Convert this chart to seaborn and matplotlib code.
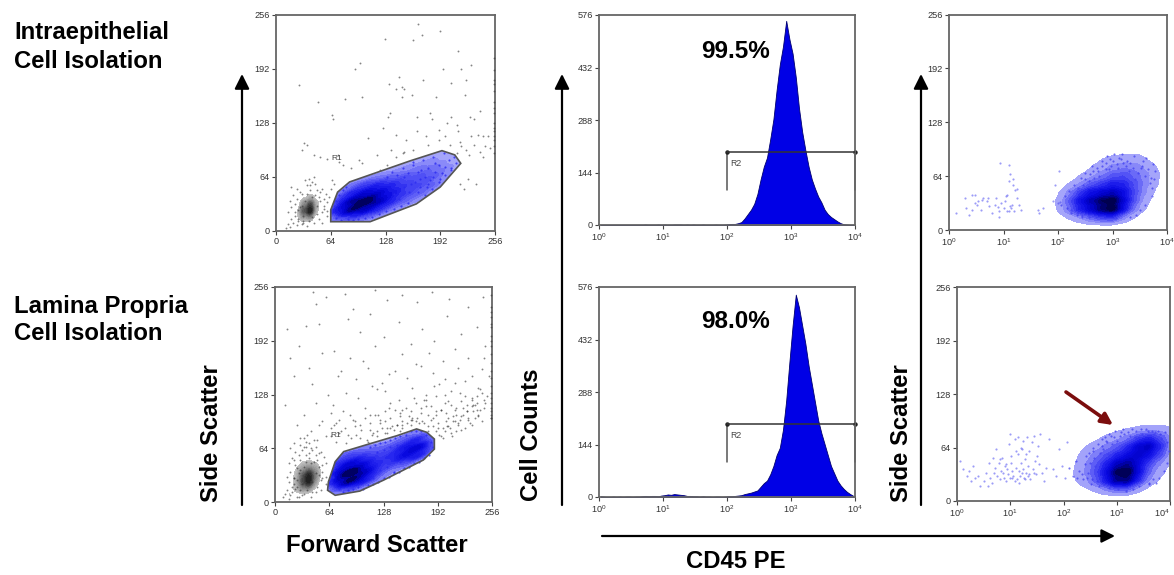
import numpy as np
import pandas as pd
import seaborn as sns
import matplotlib
matplotlib.use("Agg")
import matplotlib.pyplot as plt
from matplotlib.colors import LinearSegmentedColormap
from matplotlib.patches import Polygon, FancyArrowPatch

sns.set_theme(style="white")
plt.rcParams['font.family'] = ['Liberation Sans', 'DejaVu Sans']

W, H = 1174, 575

# tick labels
linear_ticks = [0, 64, 128, 192, 256]
count_ticks = [0, 144, 288, 432, 576]
decade_ticks = [0, 1, 2, 3, 4]

# gates
gate_top_x = [64, 110, 164, 192, 216, 209, 194, 157, 86, 72, 64]
gate_top_y = [11, 11, 32, 52, 80, 90, 95, 83, 58, 46, 25]
gate_bot_x = [62, 71, 100, 128, 175, 188, 188, 179, 167, 144, 104, 81, 71, 63]
gate_bot_y = [14, 8, 13, 26, 50, 63, 75, 83, 87, 79, 67, 60, 48, 24]

# density grids read by eye (rows from high to low side scatter)
blue_top_cols = [72, 88, 104, 120, 136, 152, 168, 184, 200, 216]
blue_top_rows = [95, 85, 75, 65, 55, 45, 35, 25, 15]
blue_top = [[0, 0, 0, 0, 0, 0, 0, 2, 3, 0],
            [0, 0, 0, 0, 0, 2, 6, 8, 6, 2],
            [0, 0, 0, 0, 4, 8, 12, 14, 10, 4],
            [0, 0, 5, 10, 14, 18, 20, 18, 8, 0],
            [4, 12, 24, 32, 30, 24, 22, 16, 4, 0],
            [10, 32, 55, 55, 38, 24, 16, 8, 0, 0],
            [25, 70, 100, 65, 30, 14, 6, 0, 0, 0],
            [40, 80, 60, 28, 10, 3, 0, 0, 0, 0],
            [14, 22, 14, 5, 0, 0, 0, 0, 0, 0]]

blue_bot_cols = [72, 88, 104, 120, 136, 152, 168, 184]
blue_bot_rows = [85, 75, 65, 55, 45, 35, 25, 15]
blue_bot = [[0, 0, 0, 0, 0, 4, 12, 4],
            [0, 0, 0, 2, 6, 20, 44, 16],
            [5, 10, 12, 16, 24, 46, 75, 24],
            [18, 30, 32, 28, 34, 55, 50, 6],
            [35, 70, 55, 34, 28, 20, 6, 0],
            [55, 130, 75, 30, 10, 3, 0, 0],
            [55, 110, 50, 14, 2, 0, 0, 0],
            [20, 25, 8, 1, 0, 0, 0, 0]]

debris_cols = [16, 24, 32, 40, 48, 56]
debris_rows = [56, 48, 40, 32, 24, 16, 8]
debris_top = [[0, 0, 1, 1, 0, 0],
              [0, 1, 2, 4, 2, 1],
              [1, 2, 6, 10, 5, 1],
              [1, 3, 16, 30, 9, 2],
              [1, 5, 28, 45, 8, 1],
              [2, 6, 14, 16, 3, 0],
              [2, 3, 2, 1, 0, 0]]
debris_bot = [[1, 2, 3, 3, 2, 1],
              [2, 3, 5, 6, 5, 2],
              [3, 5, 10, 14, 10, 3],
              [3, 6, 18, 30, 14, 3],
              [3, 6, 20, 32, 10, 2],
              [3, 6, 12, 12, 4, 1],
              [8, 4, 3, 2, 1, 0]]

cd45_cols = [2.0, 2.2, 2.4, 2.6, 2.8, 3.0, 3.2, 3.4, 3.6, 3.8]
cd45_rows = [85, 75, 65, 55, 45, 35, 25, 15]
cd45_top = [[0, 0, 0, 0, 3, 5, 7, 7, 3, 0],
            [0, 0, 0, 3, 7, 12, 14, 14, 9, 3],
            [0, 0, 3, 7, 14, 24, 28, 20, 13, 5],
            [0, 3, 10, 22, 32, 46, 42, 26, 13, 4],
            [2, 12, 32, 55, 65, 78, 58, 28, 10, 2],
            [4, 22, 55, 85, 110, 125, 65, 24, 6, 0],
            [3, 16, 45, 72, 105, 130, 55, 14, 3, 0],
            [0, 3, 8, 18, 28, 34, 12, 3, 0, 0]]
cd45_bot_cols = [2.2, 2.4, 2.6, 2.8, 3.0, 3.2, 3.4, 3.6, 3.8, 3.95]
cd45_bot = [[0, 0, 0, 2, 4, 6, 10, 12, 10, 6],
            [0, 0, 3, 8, 14, 24, 50, 70, 40, 16],
            [0, 5, 12, 22, 36, 62, 110, 130, 64, 18],
            [3, 10, 24, 42, 64, 90, 115, 90, 44, 12],
            [4, 16, 36, 68, 120, 145, 95, 48, 18, 5],
            [5, 18, 42, 90, 180, 200, 95, 32, 9, 2],
            [4, 12, 34, 76, 155, 165, 68, 18, 4, 0],
            [0, 3, 7, 18, 32, 36, 12, 3, 0, 0]]

# single events that can be told apart
gray_top_x = [166, 171, 192, 127, 160, 213, 27, 92, 98, 195, 216, 228, 49, 81, 101, 132, 144, 140, 147, 150, 147, 159,
              172, 187, 204, 222, 221, 66, 67, 238, 180, 131, 133, 165, 182, 205, 227, 232, 108, 125, 140, 152, 165, 175,
              190, 200, 212, 213, 228, 236, 242, 248, 231, 244, 250, 238, 242, 226, 222, 215, 216, 212, 203, 150, 135,
              118, 97, 74, 72, 60, 45, 33, 30, 36, 52, 78, 88, 100, 122, 130, 140, 148, 160, 178, 190, 198, 255, 255, 255,
              255, 255, 255, 255, 255, 255, 255, 255, 255, 255, 255, 255, 224, 234, 220, 215]
gray_top_y = [245, 232, 236, 227, 226, 213, 173, 192, 199, 192, 191, 196, 153, 156, 159, 174, 182, 168, 170, 168, 158, 161,
              179, 159, 175, 179, 161, 137, 132, 142, 140, 135, 139, 135, 133, 135, 135, 133, 110, 122, 114, 108, 118, 112,
              120, 128, 125, 118, 112, 114, 112, 112, 102, 100, 98, 94, 88, 90, 96, 105, 100, 92, 102, 94, 96, 90, 84,
              82, 90, 85, 90, 104, 96, 102, 88, 78, 74, 80, 72, 78, 88, 92, 96, 102, 108, 112, 205, 190, 178, 166, 152,
              140, 128, 118, 108, 100, 92, 174, 146, 122, 112, 62, 55, 50, 56]
debris_pts_top_x = [12, 14, 16, 18, 20, 22, 24, 26, 14, 18, 22, 26, 30, 16, 20, 24, 28, 32, 36, 18, 24, 30, 36, 42, 48, 54, 58, 62,
                    28, 34, 40, 46, 52, 56, 60, 26, 32, 38, 44, 50, 54, 22, 30, 36, 42, 48, 56, 60, 34, 40, 46, 52, 38, 44, 50,
                    56, 32, 42, 48, 54, 60, 64, 68, 66]
debris_pts_top_y = [3, 8, 5, 14, 10, 18, 7, 12, 22, 28, 32, 25, 8, 36, 42, 38, 46, 12, 6, 52, 50, 44, 54, 58, 48, 50, 44, 40, 28,
                    36, 48, 42, 36, 30, 34, 14, 18, 12, 10, 14, 22, 22, 30, 44, 40, 30, 26, 18, 60, 54, 56, 46, 62, 64, 40, 38, 10,
                    16, 20, 10, 24, 50, 56, 60]
gray_bot_x = [45, 48, 60, 82, 92, 118, 132, 150, 168, 185, 205, 228, 245, 255, 14, 28, 36, 52, 70, 86, 100, 112, 128, 146,
              160, 174, 188, 203, 220, 238, 248, 18, 40, 56, 74, 88, 104, 118, 134, 150, 166, 182, 198, 212, 228, 244,
              22, 44, 62, 78, 96, 110, 126, 142, 156, 172, 186, 200, 216, 232, 246, 12, 26, 48, 66, 84, 98, 114, 130,
              146, 162, 178, 194, 208, 224, 240, 252, 34, 52, 68, 80, 92, 106, 122, 136, 150, 164, 178, 190, 204, 218,
              232, 242, 30, 42, 56, 66, 76, 94, 112, 130, 144, 158, 172, 184, 196, 210, 222, 234, 246, 22, 36, 50, 60,
              72, 86, 100, 116, 132, 148, 160, 176, 190, 202, 214, 226, 238, 180, 192, 204, 216, 228, 240, 196, 208, 220,
              232, 244, 186, 200, 212, 224, 236, 176, 188, 200, 212, 120, 134, 148, 162, 112, 124, 136, 150, 166, 255, 255,
              255, 255, 255, 255, 255, 255, 255, 255, 255, 255, 255, 255, 255, 255, 255, 255, 255, 255, 255, 255]
gray_bot_y = [250, 236, 244, 248, 230, 252, 240, 246, 238, 250, 242, 232, 244, 226, 206, 186, 210, 212, 180, 218, 202, 224,
              196, 214, 188, 206, 192, 222, 200, 208, 186, 172, 160, 178, 150, 172, 168, 186, 152, 176, 164, 178, 168, 182,
              172, 158, 150, 140, 128, 156, 146, 160, 142, 156, 148, 162, 154, 146, 160, 150, 172, 116, 92, 118, 106,
              130, 124, 138, 132, 122, 136, 128, 140, 132, 144, 136, 150, 104, 92, 116, 108, 98, 112, 104, 118, 110, 124,
              114, 126, 120, 130, 122, 134, 76, 84, 96, 88, 82, 90, 86, 96, 92, 102, 106, 98, 110, 102, 112, 116, 122,
              70, 66, 74, 78, 94, 80, 76, 82, 88, 84, 98, 94, 108, 96, 104, 108, 110, 84, 88, 90, 94, 100, 104, 78, 82,
              86, 92, 96, 100, 118, 110, 126, 116, 122, 138, 128, 142, 134, 112, 106, 100, 104, 94, 88, 92, 96, 100, 246,
              232, 220, 208, 198, 186, 176, 166, 156, 148, 138, 130, 124, 118, 112, 108, 104, 100, 212, 192]
band_bot_x = [66, 72, 78, 84, 90, 96, 102, 108, 114, 120, 126, 132, 138, 144, 150, 156, 162, 168, 174, 180, 186, 192, 198, 204, 210,
              216, 222, 228, 234, 240, 246, 70, 76, 82, 88, 94, 100, 106, 112, 118, 124, 130, 136, 142, 148, 154, 160, 166, 172,
              178, 184, 190, 196, 202, 208, 214, 220, 226, 232, 238, 244, 250, 110, 120, 130, 140, 150, 160, 170, 180, 190, 200,
              206, 212, 218, 224, 230, 236, 242, 248, 194, 198, 203, 209, 214, 220, 226, 232, 238]
band_bot_y = [78, 72, 84, 70, 76, 80, 86, 74, 80, 84, 88, 82, 90, 92, 96, 94, 98, 100, 96, 104, 90, 94, 88, 100, 96, 92, 104, 98,
              108, 102, 112, 92, 98, 88, 104, 96, 92, 100, 94, 104, 98, 108, 100, 110, 102, 112, 108, 118, 112, 122, 114, 104, 110,
              106, 116, 112, 120, 116, 124, 118, 130, 126, 72, 78, 82, 86, 88, 92, 94, 90, 84, 84, 88, 96, 98, 88, 94, 100, 110,
              118, 80, 76, 90, 78, 84, 102, 108, 114, 126]
debris_pts_bot_x = [10, 12, 14, 16, 18, 20, 22, 24, 26, 14, 18, 22, 26, 30, 34, 16, 20, 24, 28, 32, 36, 40, 18, 24, 30, 36, 42, 48, 54,
                    58, 28, 34, 40, 46, 52, 56, 60, 26, 32, 38, 44, 50, 54, 22, 30, 36, 42, 48, 56, 60, 34, 40, 46, 52, 38, 44, 50,
                    56, 32, 42, 48, 54, 60, 20, 28, 36, 30, 44, 52, 26, 34, 48, 16, 22]
debris_pts_bot_y = [6, 10, 14, 4, 8, 12, 22, 16, 6, 30, 36, 28, 40, 14, 10, 46, 52, 44, 56, 62, 48, 58, 64, 60, 68, 72, 64, 66, 60, 54,
                    34, 42, 52, 48, 42, 36, 46, 18, 22, 14, 12, 18, 26, 28, 38, 56, 46, 34, 28, 22, 76, 70, 74, 58, 80, 62, 50, 44,
                    8, 6, 12, 14, 30, 18, 6, 32, 50, 24, 32, 26, 66, 56, 24, 50]

blue_gate_top_x = [68, 70, 74, 78, 82, 70, 76, 84, 90, 96, 104, 112, 120, 128, 138, 146, 154, 130, 136, 142, 148, 154, 160, 166,
                   172, 178, 184, 190, 196, 202, 208, 210, 204, 198, 192, 186, 180, 174, 168, 162, 156, 150, 144, 138, 150, 158,
                   166, 174, 182, 190, 198, 205, 170, 178, 186, 194, 160, 168, 176, 184]
blue_gate_top_y = [30, 36, 42, 48, 52, 15, 13, 14, 13, 14, 15, 17, 20, 24, 26, 30, 33, 64, 70, 66, 74, 68, 78, 70, 84, 74, 88,
                   78, 92, 84, 88, 80, 72, 76, 62, 70, 60, 64, 52, 58, 46, 52, 38, 44, 64, 56, 46, 42, 50, 58, 66, 74, 72, 56, 80, 68,
                   82, 62, 52, 64]
blue_gate_bot_x = [66, 68, 70, 72, 76, 80, 86, 92, 98, 104, 110, 116, 122, 128, 134, 140, 146, 152, 158, 164, 170, 176, 182, 186, 184,
                   178, 172, 166, 160, 154, 148, 142, 136, 130, 124, 118, 112, 120, 128, 136, 144, 152, 116, 124, 132, 140, 148]
blue_gate_bot_y = [24, 30, 38, 46, 16, 12, 14, 16, 18, 16, 20, 22, 24, 28, 30, 34, 36, 40, 42, 46, 48, 52, 56, 66, 72, 80, 84, 85,
                   84, 80, 78, 76, 74, 72, 70, 68, 66, 60, 62, 66, 68, 70, 28, 38, 42, 36, 48]

blue_left_top_x = [0.12, 0.30, 0.32, 0.36, 0.42, 0.48, 0.48, 0.52, 0.58, 0.60, 0.62, 0.70, 0.72, 0.74, 0.78, 0.84, 0.86, 0.90, 0.92,
                   0.94, 0.96, 1.00, 1.02, 1.04, 1.06, 1.06, 1.10, 1.10, 1.12, 1.14, 1.16, 1.18, 1.20, 1.22, 1.24, 1.28, 1.32,
                   1.64, 1.66, 1.72, 2.00, 2.02, 1.90, 1.94, 0.92, 1.10, 1.18, 1.12, 1.24, 2.04, 0.42, 0.54]
blue_left_top_y = [20, 38, 26, 18, 42, 42, 32, 30, 24, 36, 38, 34, 38, 28, 20, 30, 38, 27, 22, 79, 32, 26, 34, 40, 42, 22,
                   23, 77, 28, 26, 30, 60, 22, 48, 38, 30, 24, 24, 20, 26, 32, 70, 35, 54, 16, 58, 54, 66, 49, 33, 24, 34]
blue_fringe_top_x = [2.06, 2.12, 2.20, 2.24, 2.30, 2.36, 2.42, 2.44, 2.50, 2.56, 2.62, 2.70, 2.74, 2.80, 2.86, 2.90, 2.96, 3.02,
                     3.06, 3.12, 3.18, 3.26, 3.32, 3.40, 3.44, 3.52, 3.56, 3.62, 3.66, 3.70, 3.72, 3.74, 3.78, 3.72, 3.60, 3.50,
                     3.42, 3.30, 3.20, 3.10, 2.98, 2.88, 2.76, 2.66, 2.56, 2.46, 2.36, 2.26, 2.16, 2.24, 2.34, 2.44,
                     2.50, 2.58, 2.64, 2.72, 2.80, 2.88, 2.94, 3.00, 3.08, 3.16, 3.24, 3.32, 3.38, 3.46, 3.54, 3.60, 3.68, 3.76]
blue_fringe_top_y = [30, 40, 46, 24, 54, 20, 62, 18, 68, 15, 76, 16, 70, 82, 14, 88, 84, 90, 14, 86, 90, 82, 15, 88, 18, 74,
                     82, 86, 72, 62, 50, 78, 70, 40, 30, 24, 60, 70, 80, 74, 76, 72, 64, 62, 58, 54, 50, 36, 26, 20, 18, 16,
                     60, 66, 70, 74, 76, 80, 72, 82, 78, 84, 76, 80, 74, 68, 76, 64, 56, 60]

blue_left_bot_x = [0.05, 0.12, 0.18, 0.22, 0.26, 0.30, 0.34, 0.40, 0.44, 0.50, 0.54, 0.58, 0.60, 0.62, 0.66, 0.70, 0.72, 0.74, 0.76,
                   0.78, 0.80, 0.82, 0.84, 0.86, 0.88, 0.90, 0.92, 0.94, 0.96, 0.98, 1.00, 1.00, 1.02, 1.04, 1.06, 1.08, 1.10,
                   1.12, 1.14, 1.16, 1.18, 1.20, 1.22, 1.24, 1.26, 1.28, 1.30, 1.32, 1.34, 1.36, 1.38, 1.40, 1.42, 1.44, 1.46,
                   1.48, 1.50, 1.52, 1.54, 1.56, 1.60, 1.64, 1.68, 1.72, 1.30, 1.20, 1.10, 1.14, 1.24, 1.34, 1.02, 0.92, 0.80,
                   0.68, 1.80, 1.86, 1.92, 1.98, 2.02, 2.06, 1.04, 1.08, 1.16, 1.22, 1.28, 1.36, 1.44]
blue_left_bot_y = [48, 38, 30, 36, 24, 42, 28, 30, 18, 24, 34, 18, 46, 28, 22, 34, 40, 62, 30, 46, 26, 36, 52, 34, 28, 42, 24,
                   38, 32, 68, 80, 28, 46, 36, 30, 74, 40, 26, 56, 36, 30, 46, 62, 72, 28, 50, 34, 76, 42, 60, 26, 70, 38,
                   78, 48, 32, 54, 66, 44, 80, 34, 24, 40, 74, 56, 64, 60, 76, 38, 30, 54, 44, 50, 52, 38, 30, 62, 42, 28,
                   70, 28, 24, 22, 34, 26, 32, 34]
blue_fringe_bot_x = [2.10, 2.18, 2.24, 2.30, 2.36, 2.42, 2.46, 2.52, 2.56, 2.60, 2.66, 2.72, 2.76, 2.80, 2.86, 2.90, 2.96, 3.02,
                     3.08, 3.12, 3.18, 3.24, 3.30, 3.36, 3.42, 3.48, 3.54, 3.60, 3.66, 3.72, 3.78, 3.84, 3.90, 3.95, 3.98, 3.94,
                     3.88, 3.80, 3.74, 3.68, 3.60, 2.50, 2.58, 2.68, 2.74, 2.82, 2.70, 2.84, 2.92, 2.62, 2.54, 2.44, 2.34, 2.26,
                     2.40, 2.48, 2.56, 2.64, 2.72, 2.78, 2.86, 2.94, 3.00, 3.06, 3.14, 3.22, 3.28, 3.34, 3.46, 3.58, 3.70, 3.82]
blue_fringe_bot_y = [40, 30, 48, 36, 26, 54, 34, 20, 60, 42, 18, 66, 20, 72, 16, 78, 84, 14, 82, 86, 12, 78, 14, 84, 18, 80,
                     86, 22, 84, 82, 84, 74, 82, 70, 60, 46, 36, 28, 22, 26, 20, 46, 52, 58, 62, 70, 30, 56, 68, 24, 26, 28,
                     32, 28, 44, 58, 64, 68, 74, 76, 80, 76, 72, 78, 80, 82, 86, 76, 86, 84, 80, 80]

# cell counts per bin, 0.05 decade wide, starting at 10^0
hist_top = [0, 0, 0, 0, 0, 0, 0, 0, 0, 0, 0, 0, 0, 0, 1, 0, 0, 0, 1, 0, 1, 0, 0, 1, 1, 1, 0, 1, 0, 1, 0, 0, 1, 0, 0, 0, 1, 0, 0, 1,
            2, 3, 3, 5, 8, 18, 30, 42, 58, 85, 125, 160, 185, 235, 290, 370, 440, 490, 560, 510, 470, 405, 320, 255, 205, 160,
            125, 100, 78, 62, 42, 30, 22, 16, 10, 5, 2, 1, 0, 0]
hist_bot = [2, 1, 0, 0, 1, 0, 1, 0, 1, 1, 0, 1, 1, 2, 3, 2, 3, 3, 2, 4, 5, 7, 6, 8, 7, 6, 5, 3, 3, 2, 2, 1, 2, 1, 1, 0, 1, 1, 0, 1,
            2, 2, 3, 4, 5, 8, 10, 12, 15, 18, 28, 38, 45, 62, 85, 115, 135, 185, 265, 370, 470, 555, 520, 470, 420, 360, 310,
            260, 210, 175, 145, 115, 85, 65, 45, 32, 22, 14, 8, 3]
hist_edges = [i * 0.05 for i in range(81)]
hist_lefts = hist_edges[:-1]

marker_low, marker_high, marker_y, marker_drop = 2.0, 4.0, 200, 96

blue_map = LinearSegmentedColormap.from_list("cyto", ["#b4b4fb", "#5a5af6", "#2222ee", "#0808e0", "#0000c0", "#00007a", "#000040"])
black_map = LinearSegmentedColormap.from_list("debris", ["#c4c4c4", "#8a8a8a", "#4a4a4a", "#1c1c1c"])


def add_axes(left, top, right, bottom):
    ax = fig.add_axes([left / W, 1 - bottom / H, (right - left) / W, (bottom - top) / H])
    for s in ["top", "right", "left", "bottom"]:
        ax.spines[s].set_color("#666666")
        ax.spines[s].set_linewidth(1.3)
    ax.tick_params(left=True, bottom=True, length=3, width=0.8, color="#444444", labelcolor="#333333",
                   labelsize=6.6, pad=1.5)
    return ax


def density(ax, cols, rows, grid, cmap, bw, clip=None, thresh=0.05):
    xx, yy = np.meshgrid(cols, rows)
    df = pd.DataFrame({"x": xx.ravel(), "y": yy.ravel(), "w": np.array(grid).ravel()})
    df = df[df.w > 0]
    before = len(ax.collections)
    sns.kdeplot(data=df, x="x", y="y", weights="w", fill=True, cmap=cmap, levels=16, thresh=thresh,
                bw_adjust=bw, gridsize=150, ax=ax)
    if clip is not None:
        for c in ax.collections[before:]:
            c.set_clip_path(clip)


def dots(ax, xs, ys, color, alpha=0.75, size=2.2, zorder=3):
    # hand read lists, keep the complete pairs
    n = min(len(xs), len(ys))
    sns.scatterplot(x=xs[:n], y=ys[:n], color=color, s=size, alpha=alpha, linewidth=0, ax=ax, zorder=zorder)


def finish_linear(ax):
    ax.set(xlim=(0, 256), ylim=(0, 256), xlabel="", ylabel="")
    ax.set_xticks(linear_ticks)
    ax.set_yticks(linear_ticks)


def finish_log(ax, yticks):
    ax.set(xlim=(0, 4), ylim=(0, yticks[-1]), xlabel="", ylabel="")
    ax.set_xticks(decade_ticks)
    ax.set_xticklabels([f"$\\mathregular{{10^{d}}}$" for d in decade_ticks])
    ax.set_yticks(yticks)


def forward_panel(box, gate_x, gate_y, cols, rows, grid, debris, pts, blue_pts, label_xy):
    ax = add_axes(*box)
    gate = Polygon(np.column_stack([gate_x, gate_y]), closed=True, fill=False, edgecolor="#555555", lw=1.2, zorder=5)
    ax.add_patch(gate)
    density(ax, debris_cols, debris_rows, debris, black_map, 0.62, thresh=0.3)
    for xs, ys in pts:
        dots(ax, xs, ys, "#333333", 0.6, 1.8)
    density(ax, cols, rows, grid, blue_map, 0.5, clip=gate, thresh=0.015)
    dots(ax, blue_pts[0], blue_pts[1], "#2a2af0", 0.8, 2.4, zorder=4)
    finish_linear(ax)
    ax.text(label_xy[0], label_xy[1], "R1", fontsize=6, color="#444444", ha="center", va="center")
    return ax


def hist_panel(box, counts, pct, pct_xy):
    ax = add_axes(*box)
    sns.histplot(x=hist_lefts, weights=counts, bins=hist_edges, element="poly", fill=True, color="#0000e6",
                 edgecolor="#000070", linewidth=0.6, alpha=1, ax=ax)
    finish_log(ax, count_ticks)
    ax.plot([marker_low, marker_high], [marker_y, marker_y], color="#333333", lw=1.1, zorder=6)
    ax.plot([marker_low, marker_low], [marker_y, marker_drop], color="#555555", lw=1.1)
    ax.plot([marker_high, marker_high], [marker_y, marker_drop], color="#555555", lw=1.1, clip_on=False)
    ax.plot([marker_low, marker_high], [marker_y, marker_y], "o", color="#222222", ms=2.2, clip_on=False)
    ax.text(marker_low + 0.05, marker_y - 30, "R2", fontsize=6.3, color="#444444", va="center")
    fig.text(pct_xy[0] / W, 1 - pct_xy[1] / H, pct, fontsize=17.5, fontweight="bold", color="black",
             ha="center", va="center")


def cd45_panel(box, cols, grid, left_x, left_y, fringe_x, fringe_y):
    ax = add_axes(*box)
    dots(ax, left_x, left_y, "#3a3af0", 0.5, 2.4)
    density(ax, cols, cd45_rows, grid, blue_map, 0.5, thresh=0.02)
    dots(ax, fringe_x, fringe_y, "#3a3af0", 0.7, 2.4, zorder=4)
    finish_log(ax, linear_ticks)
    return ax


fig = plt.figure(figsize=(W / 100, H / 100), dpi=100)

forward_panel((276, 14.5, 495, 231), gate_top_x, gate_top_y, blue_top_cols, blue_top_rows, blue_top, debris_top,
              [(gray_top_x, gray_top_y), (debris_pts_top_x, debris_pts_top_y)],
              (blue_gate_top_x, blue_gate_top_y), (71, 86))
forward_panel((275, 287, 492, 502), gate_bot_x, gate_bot_y, blue_bot_cols, blue_bot_rows, blue_bot, debris_bot,
              [(gray_bot_x, gray_bot_y), (band_bot_x, band_bot_y), (debris_pts_bot_x, debris_pts_bot_y)],
              (blue_gate_bot_x, blue_gate_bot_y), (72, 79))
hist_panel((599, 15, 855, 225), hist_top, "99.5%", (736, 51))
hist_panel((599, 287, 855, 497), hist_bot, "98.0%", (736, 322))
cd45_panel((949, 14.5, 1167, 230), cd45_cols, cd45_top, blue_left_top_x, blue_left_top_y, blue_fringe_top_x, blue_fringe_top_y)
ax6 = cd45_panel((957, 287, 1170, 501), cd45_bot_cols, cd45_bot, blue_left_bot_x, blue_left_bot_y, blue_fringe_bot_x, blue_fringe_bot_y)
ax6.get_xticklabels()[-1].set_ha("right")


# labels in figure pixels
def label(x, y, s, **kw):
    fig.text(x / W, 1 - y / H, s, fontsize=17.2, fontweight="bold", color="black", **kw)


label(14, 33, "Intraepithelial", va="center")
label(14, 62, "Cell Isolation", va="center")
label(14, 306, "Lamina Propria", va="center")
label(14, 334, "Cell Isolation", va="center")
label(377, 546, "Forward Scatter", ha="center", va="center")
label(736, 562, "CD45 PE", ha="center", va="center")
label(211, 433, "Side Scatter", rotation=90, ha="center", va="center")
label(531, 435, "Cell Counts", rotation=90, ha="center", va="center")
label(901, 433, "Side Scatter", rotation=90, ha="center", va="center")


def arrow(x0, y0, x1, y1, color="black", lw=1.6, head=16):
    fig.add_artist(FancyArrowPatch((x0 / W, 1 - y0 / H), (x1 / W, 1 - y1 / H), transform=fig.transFigure,
                                   arrowstyle="-|>", mutation_scale=head, color=color, lw=lw,
                                   shrinkA=0, shrinkB=0))


arrow(242, 505, 242, 74, head=22)
arrow(562, 505, 562, 74, head=22)
arrow(921, 505, 921, 74, head=22)
arrow(602, 536, 1115, 536, head=20)
arrow(1066, 392, 1113, 425, color="#7b0d0d", lw=2.6, head=17)

fig.savefig("out.png", dpi=100)
